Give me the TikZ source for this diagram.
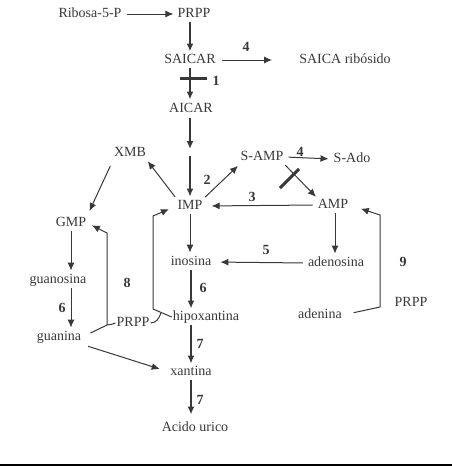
\documentclass[tikz,border=0pt]{standalone}
\usepackage{fontspec}
\setmainfont{Liberation Serif}
\usetikzlibrary{arrows.meta}
\definecolor{ink}{HTML}{383838}
\begin{document}
\begin{tikzpicture}[x=1pt,y=-1pt,
  lbl/.style={font=\fontsize{14}{16}\selectfont, text=ink, inner sep=1pt, text height=9.5pt, text depth=3pt},
  num/.style={font=\fontsize{14}{16}\selectfont\bfseries, text=ink, inner sep=0pt},
  arr/.style={draw=ink, line width=1pt, -{Latex[length=8pt,width=7pt]}},
  tarr/.style={arr, line width=1.7pt},
  ln/.style={draw=ink, line width=1pt},
  bar/.style={draw=ink, line width=3pt},
]
\useasboundingbox (0,0) rectangle (452,466);

% nodes
\node[lbl] (rib) at (90,14) {Ribosa-5-P};
\node[lbl] (prpp) at (194,14) {PRPP};
\node[lbl] (saicar) at (190,60) {SAICAR};
\node[lbl] (sribo) at (345,60) {SAICA ribósido};
\node[lbl] (aicar) at (191,109) {AICAR};
\node[lbl] (xmb) at (130,153) {XMB};
\node[lbl] (samp) at (262,157) {S-AMP};
\node[lbl] (sado) at (352,159) {S-Ado};
\node[lbl] (imp) at (190,206) {IMP};
\node[lbl] (amp) at (333,205) {AMP};
\node[lbl] (gmp) at (71,223) {GMP};
\node[lbl] (guanosina) at (58,280) {guanosina};
\node[lbl] (guanina) at (59,337) {guanina};
\node[lbl] (prppL) at (133,323) {PRPP};
\node[lbl] (inosina) at (191,262) {inosina};
\node[lbl] (adenosina) at (336,263) {adenosina};
\node[lbl] (hipox) at (206,317) {hipoxantina};
\node[lbl] (xantina) at (191,372) {xantina};
\node[lbl] (acido) at (195,428) {Acido urico};
\node[lbl] (adenina) at (320,315) {adenina};
\node[lbl] (prppR) at (411,303) {PRPP};

% numbers
\node[num] (n4a) at (246,47) {4};
\node[num] (n1) at (216,81) {1};
\node[num] (n2) at (207,180) {2};
\node[num] (n4b) at (300,152) {4};
\node[num] (n3) at (252,197) {3};
\node[num] (n5) at (266,250) {5};
\node[num] (n6a) at (62,308) {6};
\node[num] (n8) at (127,283) {8};
\node[num] (n6b) at (203,288) {6};
\node[num] (n7a) at (200,344) {7};
\node[num] (n7b) at (200,400) {7};
\node[num] (n9) at (403,262) {9};

% coordinates
\coordinate (gapA) at (190,149);
\coordinate (gapB) at (190,156);
\coordinate (jL) at (107,325);
\coordinate (jLtop) at (107,233);
\coordinate (jR) at (153,309);
\coordinate (jRtop) at (153,216);
\coordinate (jRh) at (161,313);
\coordinate (jA) at (380,307);
\coordinate (jAtop) at (380,215);

% top
\draw[arr, shorten <=4pt, shorten >=3pt] (rib) -- (prpp);
\draw[tarr, shorten <=1pt, shorten >=1pt] (prpp.south -| saicar) -- (saicar.north);
\draw[arr, shorten <=5pt, shorten >=26pt] (saicar.east) -- (sribo.west);
\draw[tarr, shorten <=1pt, shorten >=2pt] (saicar.south) -- (aicar.north -| saicar);
\draw[bar] (180,78) -- (207,78);
\draw[tarr, shorten <=2pt] (aicar.south -| gapA) -- (gapA);
\draw[tarr, shorten >=2pt] (gapB) -- (imp.north);

% IMP region
\draw[arr, shorten <=2pt, shorten >=1pt] (imp.north west) -- (xmb.south east);
\draw[arr, shorten <=2pt, shorten >=2pt] (imp.north east) -- (samp.south west);
\draw[arr, shorten <=4pt, shorten >=4pt] (samp.east) -- (sado.west);
\draw[arr, shorten <=1pt, shorten >=1pt] (samp.south east) -- (amp.north west);
\draw[bar] (280,188) -- (299,169);
\draw[arr, shorten <=4pt, shorten >=8pt] (amp.west) -- (imp.east);

% GMP branch
\draw[arr, shorten <=6pt, shorten >=5pt] (xmb.south west) -- (gmp.north east);
\draw[arr, shorten <=1pt, shorten >=2pt] (gmp.south) -- (gmp.south |- guanosina.north);
\draw[arr, shorten <=1pt, shorten >=2pt] (guanosina.south -| gmp) -- (guanina.north -| gmp);
\draw[ln, shorten <=9pt] (guanina.east) -- (jL);
\draw[arr, shorten >=5pt] (jL) -- (jLtop) -- (gmp.east);
\draw[ln] (jL) to[out=-20,in=180] (prppL.west);
\draw[ln] (prppL.east) to[out=0,in=-110] (jRh);
\draw[ln] (hipox.west) -- (jR);
\draw[arr, shorten >=8pt] (jR) -- (jRtop) -- (imp.west);

% lower
\draw[arr, shorten <=1pt, shorten >=2pt] (imp.south) -- (imp.south |- inosina.north);
\draw[arr, shorten <=4pt, shorten >=8pt] (adenosina.west) -- (inosina.east);
\draw[arr, shorten <=1pt, shorten >=2pt] (amp.south -| 335,0) -- (adenosina.north -| 335,0);
\draw[tarr, shorten <=1pt, shorten >=1pt] (inosina.south) -- (inosina.south |- hipox.north);
\draw[tarr, shorten <=1pt, shorten >=1pt] (hipox.south -| xantina) -- (xantina.north);
\draw[tarr, shorten <=1pt, shorten >=6pt] (xantina.south) -- (xantina.south |- acido.north);
\draw[arr, shorten <=6pt, shorten >=10pt] (guanina.south east) -- (xantina.west);

% adenina salvage
\draw[arr, shorten <=11pt, shorten >=12pt] (adenina.east) -- (jA) -- (jAtop) -- (amp.east);

% bottom rule
\draw[black, line width=1.3pt] (0,465) -- (452,465);
\end{tikzpicture}
\end{document}
